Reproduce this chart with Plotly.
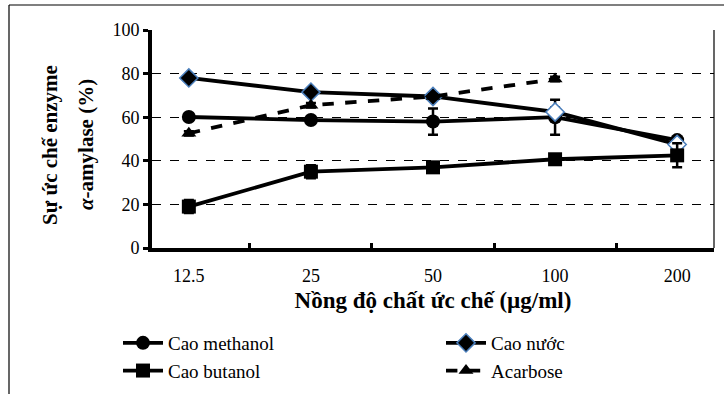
import plotly.graph_objects as go

categories = ["12.5", "25", "50", "100", "200"]
methanol = [60.1, 58.7, 58.0, 60.0, 49.5]
methanol_err = [1.0, 1.0, 6.0, 8.0, 1.0]
nuoc = [78.0, 71.5, 69.5, 62.4, 47.5]
nuoc_err = [0.5, 0.5, 1.0, 2.0, 1.0]
butanol = [19.0, 35.0, 37.0, 40.7, 42.5]
butanol_err = [3.0, 3.0, 1.0, 1.5, 5.5]
acarbose = [52.6, 65.5, 69.5, 77.5]
acarbose_err = [1.0, 1.0, 1.0, 1.0]

yticks = [0, 20, 40, 60, 80, 100]

FONT = "Liberation Serif, Times New Roman, serif"
W, H = 724, 394
L, R, T, B = 152, 10, 30, 146

fig = go.Figure()

fig.add_trace(go.Scatter(
    x=categories, y=methanol, name="Cao methanol", mode="lines+markers",
    line=dict(color="black", width=3.8),
    marker=dict(symbol="circle", size=14, color="black"),
    error_y=dict(type="data", array=methanol_err, color="black", thickness=2.5, width=5),
))
fig.add_trace(go.Scatter(
    x=categories, y=nuoc, name="Cao nước", mode="lines+markers",
    line=dict(color="black", width=3.8),
    marker=dict(symbol="diamond", size=14, color=["black", "black", "black", "white", "white"],
                line=dict(color="#4a7ebb", width=1.5)),
    error_y=dict(type="data", array=nuoc_err, color="black", thickness=2.5, width=5),
))
fig.add_trace(go.Scatter(
    x=categories, y=butanol, name="Cao butanol", mode="lines+markers",
    line=dict(color="black", width=3.8),
    marker=dict(symbol="square", size=14, color="black"),
    error_y=dict(type="data", array=butanol_err, color="black", thickness=2.5, width=5),
))
fig.add_trace(go.Scatter(
    x=categories[:4], y=acarbose, name="Acarbose", mode="lines+markers",
    line=dict(color="black", width=3.8, dash="dash"),
    marker=dict(symbol="triangle-up", size=13, color="black"),
    error_y=dict(type="data", array=acarbose_err, color="black", thickness=2.5, width=5),
))

pw = W - L - R
ph = H - T - B
def px2x(px):
    return (px - L) / pw
def py2y(py):
    return (H - B - py) / ph

shapes = [
    dict(type="line", xref="paper", yref="paper", x0=px2x(9), x1=px2x(724), y0=py2y(5), y1=py2y(5),
         line=dict(color="black", width=1.2)),
    dict(type="line", xref="paper", yref="paper", x0=px2x(9), x1=px2x(9), y0=py2y(5), y1=py2y(394),
         line=dict(color="black", width=1.2)),
    dict(type="line", xref="paper", yref="paper", x0=1, x1=1, y0=0, y1=1,
         line=dict(color="black", width=1.2)),
]

annotations = [
    dict(text="<b>Sự ức chế enzyme</b>", xref="paper", yref="paper", x=px2x(50), y=py2y(145),
         showarrow=False, textangle=-90, font=dict(family=FONT, size=21, color="black"),
         xanchor="center", yanchor="middle"),
    dict(text="<b><i>α</i>-amylase (%)</b>", xref="paper", yref="paper", x=px2x(86), y=py2y(145),
         showarrow=False, textangle=-90, font=dict(family=FONT, size=21, color="black"),
         xanchor="center", yanchor="middle"),
]

fig.update_layout(
    width=W, height=H,
    margin=dict(l=L, r=R, t=T, b=B, autoexpand=False),
    paper_bgcolor="white", plot_bgcolor="white",
    font=dict(family=FONT, color="black", size=15),
    shapes=shapes,
    annotations=annotations,
    showlegend=True,
    legend=dict(orientation="h", x=px2x(118), y=py2y(324), xanchor="left", yanchor="top",
                entrywidth=268, entrywidthmode="pixels", traceorder="normal",
                font=dict(family=FONT, size=19, color="black"),
                bgcolor="rgba(0,0,0,0)", itemwidth=40),
    xaxis=dict(
        type="category", categoryorder="array", categoryarray=categories,
        showline=True, linecolor="black", linewidth=4,
        ticks="inside", tickson="boundaries", ticklen=5, tickwidth=3, tickcolor="black",
        showgrid=False, zeroline=False,
        tickfont=dict(family=FONT, size=18, color="black"),
        ticklabelstandoff=8,
        title=dict(text="<b>Nồng độ chất ức chế (µg/ml)</b>", font=dict(family=FONT, size=23, color="black"),
                   standoff=8),
    ),
    yaxis=dict(
        range=[0, 100], tickvals=yticks, ticktext=[str(v) for v in yticks],
        showline=True, linecolor="black", linewidth=4,
        ticks="outside", ticklen=5, tickwidth=3, tickcolor="black",
        showgrid=True, gridcolor="black", gridwidth=1, griddash="dash",
        zeroline=False,
        tickfont=dict(family=FONT, size=18, color="black"),
    ),
)

fig.write_html("out.html")
